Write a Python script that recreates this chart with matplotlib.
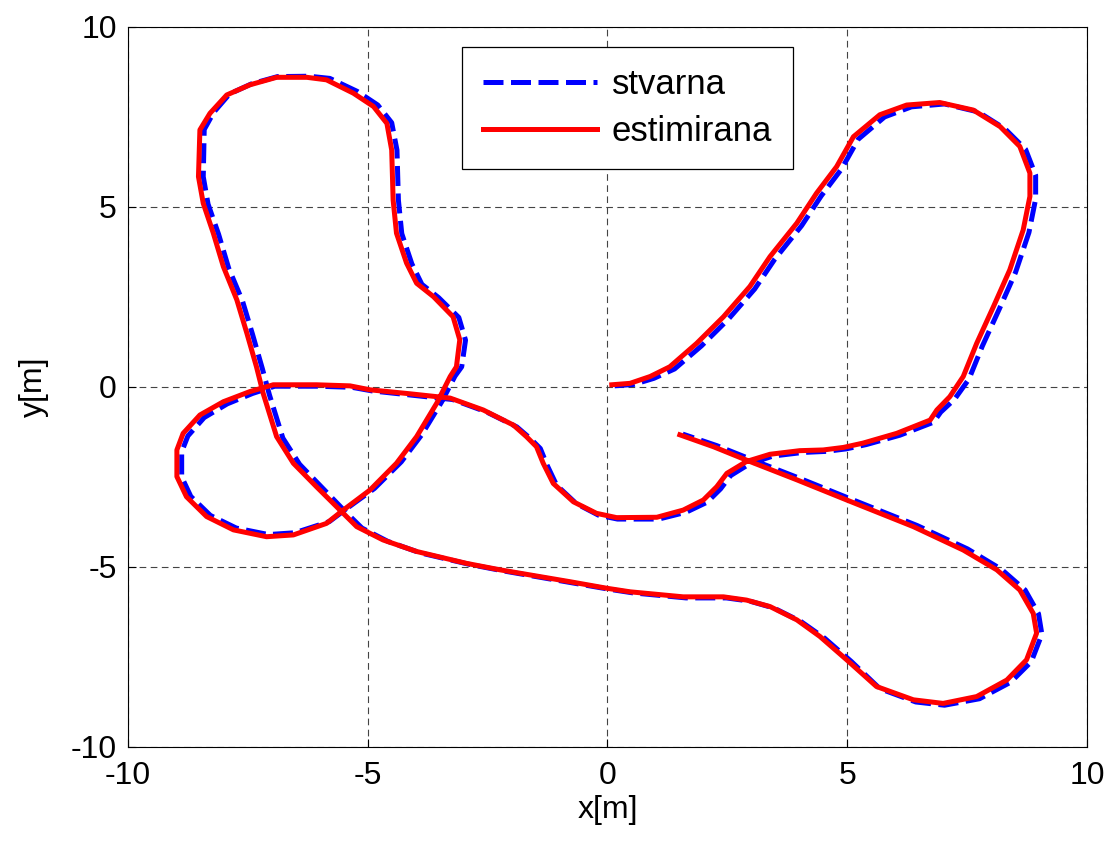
import matplotlib
matplotlib.use('Agg')
import matplotlib.pyplot as plt
import numpy as np

plt.rcParams['font.family'] = ['Liberation Sans', 'DejaVu Sans']
plt.rcParams['axes.unicode_minus'] = False

# estimirana putanja (x, y) u metrima
est_pts = np.array([
    (0.09, 0.06), (0.47, 0.10), (0.89, 0.29), (1.30, 0.56), (1.86, 1.21), (2.42, 1.95),
    (2.97, 2.79), (3.39, 3.62), (3.95, 4.55), (4.36, 5.38), (4.78, 6.12), (5.13, 6.95),
    (5.68, 7.56), (6.24, 7.83), (6.93, 7.90), (7.63, 7.69), (8.19, 7.23), (8.60, 6.68),
    (8.81, 5.94), (8.81, 5.29), (8.67, 4.36), (8.39, 3.25), (8.05, 2.23), (7.70, 1.21),
    (7.42, 0.29), (7.14, -0.27), (6.87, -0.64), (6.73, -0.92), (6.03, -1.29), (5.33, -1.56),
    (4.92, -1.68), (4.50, -1.75), (4.01, -1.77), (3.39, -1.87), (2.90, -2.07), (2.49, -2.40),
    (2.28, -2.77), (2.00, -3.14), (1.58, -3.42), (1.03, -3.62), (0.19, -3.63), (-0.23, -3.51),
    (-0.71, -3.19), (-1.13, -2.68), (-1.34, -2.12), (-1.48, -1.66), (-1.69, -1.38), (-1.96, -1.06),
    (-2.59, -0.64), (-3.28, -0.31), (-4.12, -0.19), (-4.95, -0.08), (-5.37, 0.03), (-6.07, 0.06),
    (-6.97, 0.06), (-7.46, -0.13), (-8.01, -0.41), (-8.50, -0.78), (-8.85, -1.29), (-8.98, -1.75),
    (-8.98, -2.49), (-8.78, -3.05), (-8.36, -3.60), (-7.80, -3.97), (-7.11, -4.16), (-6.55, -4.11),
    (-5.86, -3.79), (-5.51, -3.42), (-4.95, -2.86), (-4.40, -2.12), (-3.98, -1.38), (-3.56, -0.45),
    (-3.28, 0.29), (-3.15, 0.56), (-3.08, 1.31), (-3.22, 1.95), (-3.63, 2.51), (-3.98, 2.88),
    (-4.19, 3.44), (-4.40, 4.27), (-4.47, 5.19), (-4.50, 6.58), (-4.60, 7.32), (-4.88, 7.79),
    (-5.30, 8.16), (-5.86, 8.53), (-6.27, 8.60), (-6.90, 8.60), (-7.46, 8.39), (-7.94, 8.11),
    (-8.29, 7.60), (-8.50, 7.14), (-8.53, 5.84), (-8.43, 5.10), (-8.22, 4.27), (-8.01, 3.34),
    (-7.73, 2.42), (-7.52, 1.49), (-7.32, 0.56), (-7.18, -0.18), (-6.90, -1.38), (-6.55, -2.12),
    (-6.07, -2.77), (-5.58, -3.42), (-5.23, -3.88), (-4.68, -4.25), (-3.98, -4.57), (-2.94, -4.90),
    (-2.24, -5.08), (-1.62, -5.22), (-0.78, -5.41), (-0.02, -5.59), (0.47, -5.69), (1.58, -5.83),
    (2.42, -5.83), (2.90, -5.92), (3.39, -6.10), (3.95, -6.47), (4.43, -6.93), (4.99, -7.58),
    (5.61, -8.32), (6.38, -8.69), (7.00, -8.79), (7.70, -8.60), (8.33, -8.14), (8.74, -7.58),
    (8.95, -6.84), (8.88, -6.29), (8.60, -5.64), (8.12, -5.08), (7.42, -4.53), (6.38, -3.88),
    (4.99, -3.14), (3.95, -2.58), (2.97, -2.07), (2.21, -1.66), (1.51, -1.33),
])

# stvarna putanja (x, y) u metrima
true_pts = np.array([
    (0.15, 0.03), (0.55, 0.07), (0.97, 0.24), (1.40, 0.50), (1.96, 1.14), (2.52, 1.88),
    (3.07, 2.72), (3.49, 3.55), (4.05, 4.48), (4.46, 5.31), (4.88, 6.05), (5.23, 6.88),
    (5.78, 7.50), (6.34, 7.78), (7.03, 7.86), (7.73, 7.64), (8.29, 7.17), (8.72, 6.60),
    (8.93, 5.88), (8.93, 5.22), (8.79, 4.29), (8.51, 3.18), (8.17, 2.16), (7.82, 1.14),
    (7.54, 0.22), (7.24, -0.34), (6.95, -0.70), (6.80, -0.98), (6.10, -1.34), (5.40, -1.60),
    (4.98, -1.72), (4.56, -1.79), (4.07, -1.82), (3.45, -1.92), (2.97, -2.13), (2.57, -2.46),
    (2.36, -2.83), (2.08, -3.20), (1.64, -3.48), (1.07, -3.67), (0.21, -3.67), (-0.19, -3.56),
    (-0.65, -3.24), (-1.06, -2.73), (-1.26, -2.17), (-1.40, -1.71), (-1.61, -1.43), (-1.89, -1.11),
    (-2.53, -0.69), (-3.23, -0.35), (-4.08, -0.23), (-4.91, -0.11), (-5.33, -0.01), (-6.04, 0.02),
    (-6.94, 0.02), (-7.40, -0.18), (-7.93, -0.47), (-8.41, -0.85), (-8.75, -1.36), (-8.88, -1.80),
    (-8.88, -2.50), (-8.69, -3.04), (-8.28, -3.57), (-7.74, -3.92), (-7.07, -4.10), (-6.52, -4.05),
    (-5.80, -3.74), (-5.43, -3.37), (-4.86, -2.82), (-4.30, -2.08), (-3.88, -1.34), (-3.46, -0.42),
    (-3.18, 0.30), (-3.04, 0.56), (-2.96, 1.30), (-3.10, 1.93), (-3.52, 2.48), (-3.87, 2.85),
    (-4.08, 3.42), (-4.29, 4.26), (-4.36, 5.19), (-4.39, 6.58), (-4.50, 7.34), (-4.79, 7.83),
    (-5.22, 8.21), (-5.79, 8.57), (-6.22, 8.63), (-6.88, 8.62), (-7.42, 8.42), (-7.88, 8.14),
    (-8.21, 7.63), (-8.41, 7.15), (-8.43, 5.84), (-8.33, 5.08), (-8.11, 4.24), (-7.90, 3.30),
    (-7.61, 2.38), (-7.40, 1.45), (-7.20, 0.52), (-7.05, -0.22), (-6.77, -1.42), (-6.42, -2.15),
    (-5.95, -2.80), (-5.47, -3.46), (-5.12, -3.92), (-4.58, -4.29), (-3.90, -4.61), (-2.87, -4.93),
    (-2.17, -5.11), (-1.56, -5.25), (-0.72, -5.44), (0.04, -5.62), (0.53, -5.72), (1.64, -5.86),
    (2.48, -5.86), (2.97, -5.95), (3.47, -6.14), (4.04, -6.52), (4.53, -6.98), (5.09, -7.63),
    (5.68, -8.38), (6.43, -8.75), (7.03, -8.84), (7.76, -8.66), (8.41, -8.20), (8.84, -7.63),
    (9.06, -6.87), (8.99, -6.30), (8.71, -5.64), (8.22, -5.07), (7.51, -4.50), (6.46, -3.85),
    (5.07, -3.11), (4.03, -2.55), (3.05, -2.04), (2.28, -1.63), (1.57, -1.31),
])

ticks = [-10, -5, 0, 5, 10]

fig = plt.figure(figsize=(11.08, 8.41), dpi=100)
ax = fig.add_axes([0.1155, 0.1118, 0.8655, 0.8562])

ax.plot(true_pts[:, 0], true_pts[:, 1], color='#0000ff', lw=3.6, ls='--',
        dashes=(4, 1.5), label='stvarna')
ax.plot(est_pts[:, 0], est_pts[:, 1], color='#ff0000', lw=3.6, label='estimirana')

ax.set_xlim(-10, 10)
ax.set_ylim(-10, 10)
ax.set_xticks(ticks)
ax.set_yticks(ticks)
ax.tick_params(direction='in', length=6, labelsize=23, pad=8, width=0.8)
ax.tick_params(axis='x', pad=10)
ax.grid(True, color='#444444', ls=(0, (6, 4)), lw=0.8)
for s in ax.spines.values():
    s.set_linewidth(0.8)
ax.set_xlabel('x[m]', fontsize=23, labelpad=3)
ax.set_ylabel('y[m]', fontsize=23, labelpad=16)

leg = ax.legend(loc='upper left', bbox_to_anchor=(0.348, 0.972), borderaxespad=0,
                fontsize=25, handlelength=3.3, handletextpad=0.42, borderpad=0.6,
                labelspacing=0.4, fancybox=False, framealpha=1, edgecolor='black')
leg.get_frame().set_linewidth(0.9)

fig.savefig('out.png', dpi=100)
